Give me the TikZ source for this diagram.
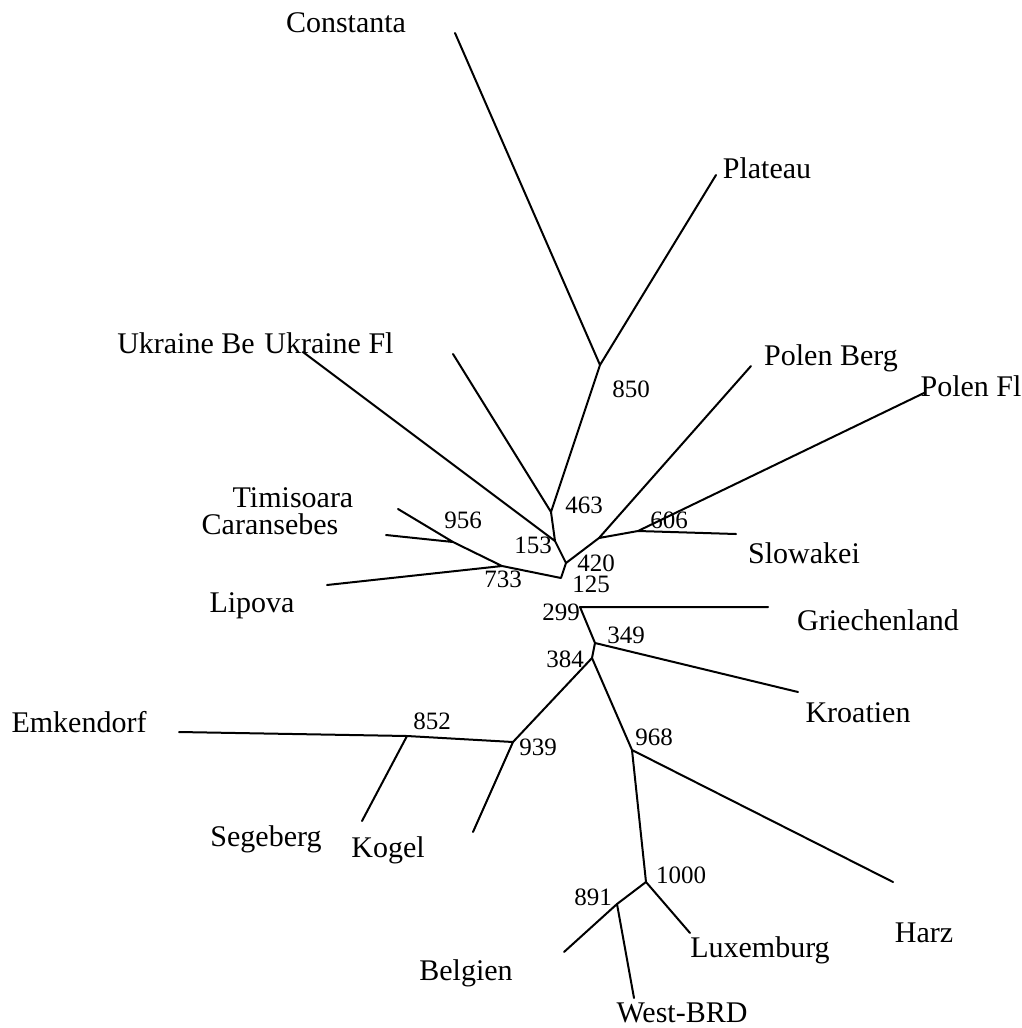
\documentclass[tikz,border=0pt]{standalone}
\usepackage{fontspec}
\setmainfont{Liberation Serif}
\usepackage{xcolor}
\usepackage{tikz}
\definecolor{ink}{HTML}{000000}
\tikzset{
  edge/.style={draw=ink, line width=2pt, line cap=round, line join=round},
  taxon/.style={text=ink, anchor=base, inner sep=0pt, font=\fontsize{30}{36}\selectfont},
  boot/.style={text=ink, anchor=base, inner sep=0pt, font=\fontsize{25}{30}\selectfont},
}

\begin{document}
\begin{tikzpicture}[x=1pt, y=-1pt]
  \useasboundingbox (0,0) rectangle (1022,1028);

  % inner nodes
  \coordinate (n850) at (600,365);
  \coordinate (n463) at (551,512);
  \coordinate (n153) at (555,541);
  \coordinate (n420) at (566,563);
  \coordinate (n125) at (561,578);
  \coordinate (n733) at (502,566);
  \coordinate (n956) at (453,542);
  \coordinate (nPolen) at (599,538);
  \coordinate (n606) at (638,531);
  \coordinate (n299) at (580,607);
  \coordinate (n349) at (595,643);
  \coordinate (n384) at (592,658);
  \coordinate (n939) at (513,742);
  \coordinate (n852) at (407,736);
  \coordinate (n968) at (632,750);
  \coordinate (n1000) at (646,882);
  \coordinate (n891) at (617,904);

  % tips
  \coordinate (tConst) at (455,33);
  \coordinate (tPlat) at (716,175);
  \coordinate (tUkrBe) at (303,352);
  \coordinate (tUkrFl) at (453,354);
  \coordinate (tPolBerg) at (751,366);
  \coordinate (tPolFl) at (924,393);
  \coordinate (tSlow) at (736,534);
  \coordinate (tTimi) at (398,509);
  \coordinate (tCaran) at (386,535);
  \coordinate (tLipova) at (327,585);
  \coordinate (tGriech) at (768,607);
  \coordinate (tKroat) at (798,692);
  \coordinate (tEmk) at (179,732);
  \coordinate (tSeg) at (362,821);
  \coordinate (tKogel) at (473,832);
  \coordinate (tHarz) at (893,882);
  \coordinate (tLux) at (690,933);
  \coordinate (tBelg) at (564,952);
  \coordinate (tWest) at (634,998);

  % upper part
  \draw[edge] (tConst) -- (n850) -- (tPlat);
  \draw[edge] (n850) -- (n463) -- (tUkrFl);
  \draw[edge] (n463) -- (n153) -- (tUkrBe);
  \draw[edge] (n153) -- (n420) -- (nPolen);
  \draw[edge] (n420) -- (n125) -- (n733);
  \draw[edge] (tLipova) -- (n733) -- (n956);
  \draw[edge] (tTimi) -- (n956) -- (tCaran);
  \draw[edge] (tPolBerg) -- (nPolen) -- (n606);
  \draw[edge] (tPolFl) -- (n606) -- (tSlow);

  % lower part
  \draw[edge] (tGriech) -- (n299) -- (n349) -- (tKroat);
  \draw[edge] (n349) -- (n384) -- (n939);
  \draw[edge] (n384) -- (n968) -- (tHarz);
  \draw[edge] (n939) -- (tKogel);
  \draw[edge] (n939) -- (n852) -- (tEmk);
  \draw[edge] (n852) -- (tSeg);
  \draw[edge] (n968) -- (n1000) -- (tLux);
  \draw[edge] (n1000) -- (n891) -- (tBelg);
  \draw[edge] (n891) -- (tWest);

  % taxa
  \node[taxon] (lConst) at (346,32) {Constanta};
  \node[taxon] (lPlat) at (767,178) {Plateau};
  \node[taxon] (lUkrBe) at (186,353) {Ukraine Be};
  \node[taxon] (lUkrFl) at (329,353) {Ukraine Fl};
  \node[taxon] (lPolBerg) at (831,365) {Polen Berg};
  \node[taxon] (lPolFl) at (971,396) {Polen Fl};
  \node[taxon] (lTimi) at (293,507) {Timisoara};
  \node[taxon] (lCaran) at (270,534) {Caransebes};
  \node[taxon] (lLipova) at (252,612) {Lipova};
  \node[taxon] (lSlow) at (804,563) {Slowakei};
  \node[taxon] (lGriech) at (878,630) {Griechenland};
  \node[taxon] (lKroat) at (858,722) {Kroatien};
  \node[taxon] (lEmk) at (79,732) {Emkendorf};
  \node[taxon] (lSeg) at (266,846) {Segeberg};
  \node[taxon] (lKogel) at (388,857) {Kogel};
  \node[taxon] (lHarz) at (924,942) {Harz};
  \node[taxon] (lLux) at (760,957) {Luxemburg};
  \node[taxon] (lBelg) at (466,980) {Belgien};
  \node[taxon] (lWest) at (682,1022) {West-BRD};

  % bootstrap values
  \node[boot] (b850) at (631,397) {850};
  \node[boot] (b463) at (584,513) {463};
  \node[boot] (b153) at (533,553) {153};
  \node[boot] (b956) at (463,528) {956};
  \node[boot] (b733) at (503,587) {733};
  \node[boot] (b420) at (596,571) {420};
  \node[boot] (b125) at (591,592) {125};
  \node[boot] (b606) at (669,528) {606};
  \node[boot] (b299) at (561,620) {299};
  \node[boot] (b349) at (626,643) {349};
  \node[boot] (b384) at (565,667) {384};
  \node[boot] (b852) at (432,729) {852};
  \node[boot] (b939) at (538,755) {939};
  \node[boot] (b968) at (654,745) {968};
  \node[boot] (b1000) at (681,883) {1000};
  \node[boot] (b891) at (593,905) {891};
\end{tikzpicture}
\end{document}
